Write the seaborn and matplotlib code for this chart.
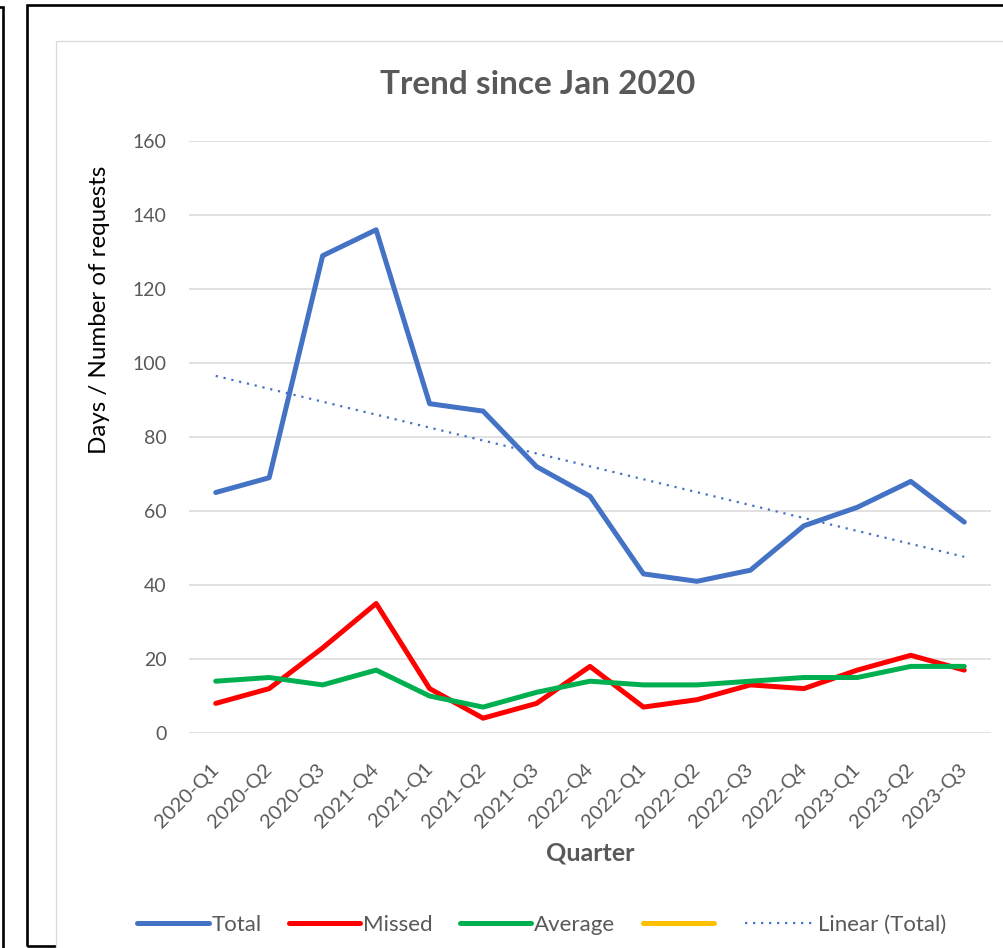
import numpy as np
import pandas as pd
import matplotlib
matplotlib.use("Agg")
import matplotlib.pyplot as plt
from matplotlib.patches import Rectangle
from matplotlib.lines import Line2D
import seaborn as sns

# Quarterly figures
quarters = ["2020-Q1", "2020-Q2", "2020-Q3", "2021-Q4", "2021-Q1", "2021-Q2", "2021-Q3",
            "2022-Q4", "2022-Q1", "2022-Q2", "2022-Q3", "2022-Q4", "2023-Q1", "2023-Q2", "2023-Q3"]
total = [65, 69, 129, 136, 89, 87, 72, 64, 43, 41, 44, 56, 61, 68, 57]
missed = [8, 12, 23, 35, 12, 4, 8, 18, 7, 9, 13, 12, 17, 21, 17]
average = [14, 15, 13, 17, 10, 7, 11, 14, 13, 13, 14, 15, 15, 18, 18]
series_names = ["Total", "Missed", "Average"]
y_ticks = [0, 20, 40, 60, 80, 100, 120, 140, 160]

colors = {"Total": "#4472C4", "Missed": "#FF0000", "Average": "#00B050", "Empty": "#FFC000"}
GRAY = "#595959"

W, H = 1004, 948
sns.set_theme(style="white")
plt.rcParams["font.family"] = ["Lato", "DejaVu Sans"]

fig = plt.figure(figsize=(W / 100, H / 100), dpi=100)
fig.patch.set_facecolor("white")


def frame(x0, y0, x1, y1, **kw):
    """Rectangle given in top-left pixel coordinates."""
    r = Rectangle((x0 / W, 1 - y1 / H), (x1 - x0) / W, (y1 - y0) / H,
                  transform=fig.transFigure, **kw)
    fig.add_artist(r)
    return r


# surrounding frames and the chart area box
frame(-20, 7, 2.5, 970, fill=False, edgecolor="black", linewidth=1.9, zorder=1)
frame(27.5, 4.5, 1030, 945.5, fill=False, edgecolor="black", linewidth=1.9, zorder=1)
frame(56, 41, 1030, 970, facecolor="white", edgecolor="#d9d9d9", linewidth=0.9, zorder=2)

ax = fig.add_axes([189 / W, 1 - 733 / H, (991 - 189) / W, (733 - 141) / H])
ax.set_zorder(5)
ax.set_facecolor("none")

idx = np.arange(len(quarters))
df = pd.DataFrame({
    "idx": np.tile(idx, 3),
    "value": total + missed + average,
    "series": np.repeat(series_names, len(quarters)),
})

sns.lineplot(data=df, x="idx", y="value", hue="series", hue_order=series_names,
             palette=colors, linewidth=3.6, legend=False, ax=ax,
             solid_capstyle="round", solid_joinstyle="round")

# linear trend of the total
sns.regplot(x=idx, y=np.array(total, dtype=float), scatter=False, ci=None, ax=ax,
            color=colors["Total"], truncate=True,
            line_kws=dict(linestyle=(0, (1, 2.6)), linewidth=1.6))

ax.set_xlim(-0.5, len(quarters) - 0.5)
ax.set_ylim(0, 160)
ax.set_yticks(y_ticks)
ax.set_xticks(idx)
ax.set_xticklabels(quarters, rotation=45, ha="right", va="center", rotation_mode="anchor")
ax.set_xlabel("")
ax.set_ylabel("")
ax.yaxis.grid(True, color="#d9d9d9", linewidth=1.1)
ax.xaxis.grid(False)
ax.set_axisbelow(True)
for s in ax.spines.values():
    s.set_visible(False)
ax.tick_params(axis="y", length=0, labelsize=14, labelcolor=GRAY, pad=16)
ax.tick_params(axis="x", length=0, labelsize=14.5, labelcolor=GRAY, pad=24)

fig.text(538 / W, 1 - 85 / H, "Trend since Jan 2020", ha="center", va="center",
         fontsize=24, fontweight="bold", color=GRAY)
fig.text(590 / W, 1 - 853 / H, "Quarter", ha="center", va="center",
         fontsize=18, fontweight="bold", color=GRAY)
fig.text(100 / W, 1 - 310 / H, "Days / Number of requests", ha="center", va="center",
         rotation=90, fontsize=17.4, color="black")

handles = [
    Line2D([], [], color=colors["Total"], linewidth=3.6, solid_capstyle="round"),
    Line2D([], [], color=colors["Missed"], linewidth=3.6, solid_capstyle="round"),
    Line2D([], [], color=colors["Average"], linewidth=3.6, solid_capstyle="round"),
    Line2D([], [], color=colors["Empty"], linewidth=3.6, solid_capstyle="round"),
    Line2D([], [], color=colors["Total"], linewidth=1.6, linestyle=(0, (1, 2.6))),
]
labels = ["Total", "Missed", "Average", "", "Linear (Total)"]
leg = fig.legend(handles, labels, loc="center", bbox_to_anchor=(542 / W, 1 - 925 / H),
                 ncol=5, frameon=False, fontsize=16, handlelength=3.2, handletextpad=0.12,
                 columnspacing=1.25, labelcolor=GRAY)
leg.set_zorder(6)

fig.savefig("out.png", dpi=100)
